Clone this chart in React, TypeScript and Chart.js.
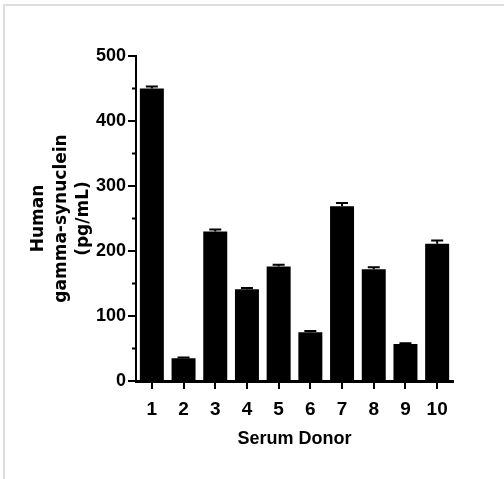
import { useEffect, useRef } from "react";
import { Chart, registerables } from "chart.js";

Chart.register(...registerables);

const donors = ["1", "2", "3", "4", "5", "6", "7", "8", "9", "10"];
const concentrations = [450, 35, 230, 141, 176, 75, 269, 172, 57, 211];
const errors = [3, 1, 3, 2, 3, 2, 5, 3, 1, 5];
const minorTicks = [50, 150, 250, 350, 450];
const yTitle = ["Human", "gamma-synuclein", "(pg/mL)"];
const xTitle = "Serum Donor";

const tickFamily = "'Liberation Sans', Arial, sans-serif";

const errorBarPlugin = {
  id: "errorBars",
  afterDatasetsDraw(chart: any) {
    const { ctx } = chart;
    const meta = chart.getDatasetMeta(0);
    const y = chart.scales.y;
    ctx.save();
    ctx.strokeStyle = "#000";
    ctx.lineWidth = 2;
    meta.data.forEach((bar: any, i: number) => {
      const v = concentrations[i];
      const top = y.getPixelForValue(v + errors[i]);
      const base = y.getPixelForValue(v);
      ctx.beginPath();
      ctx.moveTo(bar.x, base);
      ctx.lineTo(bar.x, top);
      ctx.moveTo(bar.x - 6, top);
      ctx.lineTo(bar.x + 6, top);
      ctx.stroke();
    });
    const x0 = chart.scales.x.left;
    minorTicks.forEach((t) => {
      const py = y.getPixelForValue(t);
      ctx.beginPath();
      ctx.moveTo(x0 - 4, py);
      ctx.lineTo(x0, py);
      ctx.stroke();
    });
    ctx.restore();
  },
};

export default function App() {
  const ref = useRef<HTMLCanvasElement | null>(null);

  useEffect(() => {
    if (!ref.current) return;
    const chart = new Chart(ref.current, {
      type: "bar",
      data: {
        labels: donors,
        datasets: [
          {
            data: concentrations,
            backgroundColor: "#000",
            borderWidth: 0,
            barPercentage: 0.78,
            categoryPercentage: 0.97,
          },
        ],
      },
      options: {
        responsive: false,
        maintainAspectRatio: false,
        animation: false,
        devicePixelRatio: 1,
        layout: { padding: { top: 56, right: 51, bottom: 0, left: 0 } },
        plugins: { legend: { display: false }, tooltip: { enabled: false } },
        scales: {
          x: {
            offset: true,
            grid: {
              display: true,
              drawOnChartArea: false,
              drawTicks: true,
              tickLength: 8,
              color: "#000",
              lineWidth: 2,
              offset: false,
            },
            border: { display: true, color: "#000", width: 3 },
            ticks: {
              color: "#000",
              padding: 9,
              font: { family: tickFamily, size: 19, weight: "bold" },
            },
            title: {
              display: true,
              text: xTitle,
              color: "#000",
              font: { family: tickFamily, size: 18, weight: "bold" },
              padding: { top: 0, bottom: 29 },
            },
            afterFit(scale: any) {
              scale.height = 479 - 381;
            },
          },
          y: {
            min: 0,
            max: 500,
            ticks: {
              stepSize: 100,
              color: "#000",
              padding: 2,
              font: { family: tickFamily, size: 18, weight: "bold" },
            },
            grid: {
              display: true,
              drawOnChartArea: false,
              drawTicks: true,
              tickLength: 8,
              color: "#000",
              lineWidth: 2,
            },
            border: { display: true, color: "#000", width: 2 },
            title: {
              display: true,
              text: yTitle,
              color: "#000",
              font: { family: "'DejaVu Sans'", size: 17, weight: "bold", lineHeight: 1.3 },
              padding: { top: 28, bottom: 0 },
            },
            afterFit(scale: any) {
              scale.width = 136;
            },
          },
        },
      },
      plugins: [errorBarPlugin],
    });
    return () => chart.destroy();
  }, []);

  return (
    <div
      style={{
        position: "fixed",
        left: 0,
        top: 0,
        width: 504,
        height: 479,
        background: "#fff",
        overflow: "hidden",
      }}
    >
      <div
        style={{
          position: "absolute",
          left: 3,
          top: 4,
          width: 501,
          height: 475,
          boxSizing: "border-box",
          borderTop: "2px solid #dedede",
          borderLeft: "2px solid #dedede",
        }}
      />
      <canvas
        ref={ref}
        width={504}
        height={479}
        style={{ position: "absolute", left: 0, top: 0, width: 504, height: 479 }}
      />
    </div>
  );
}
